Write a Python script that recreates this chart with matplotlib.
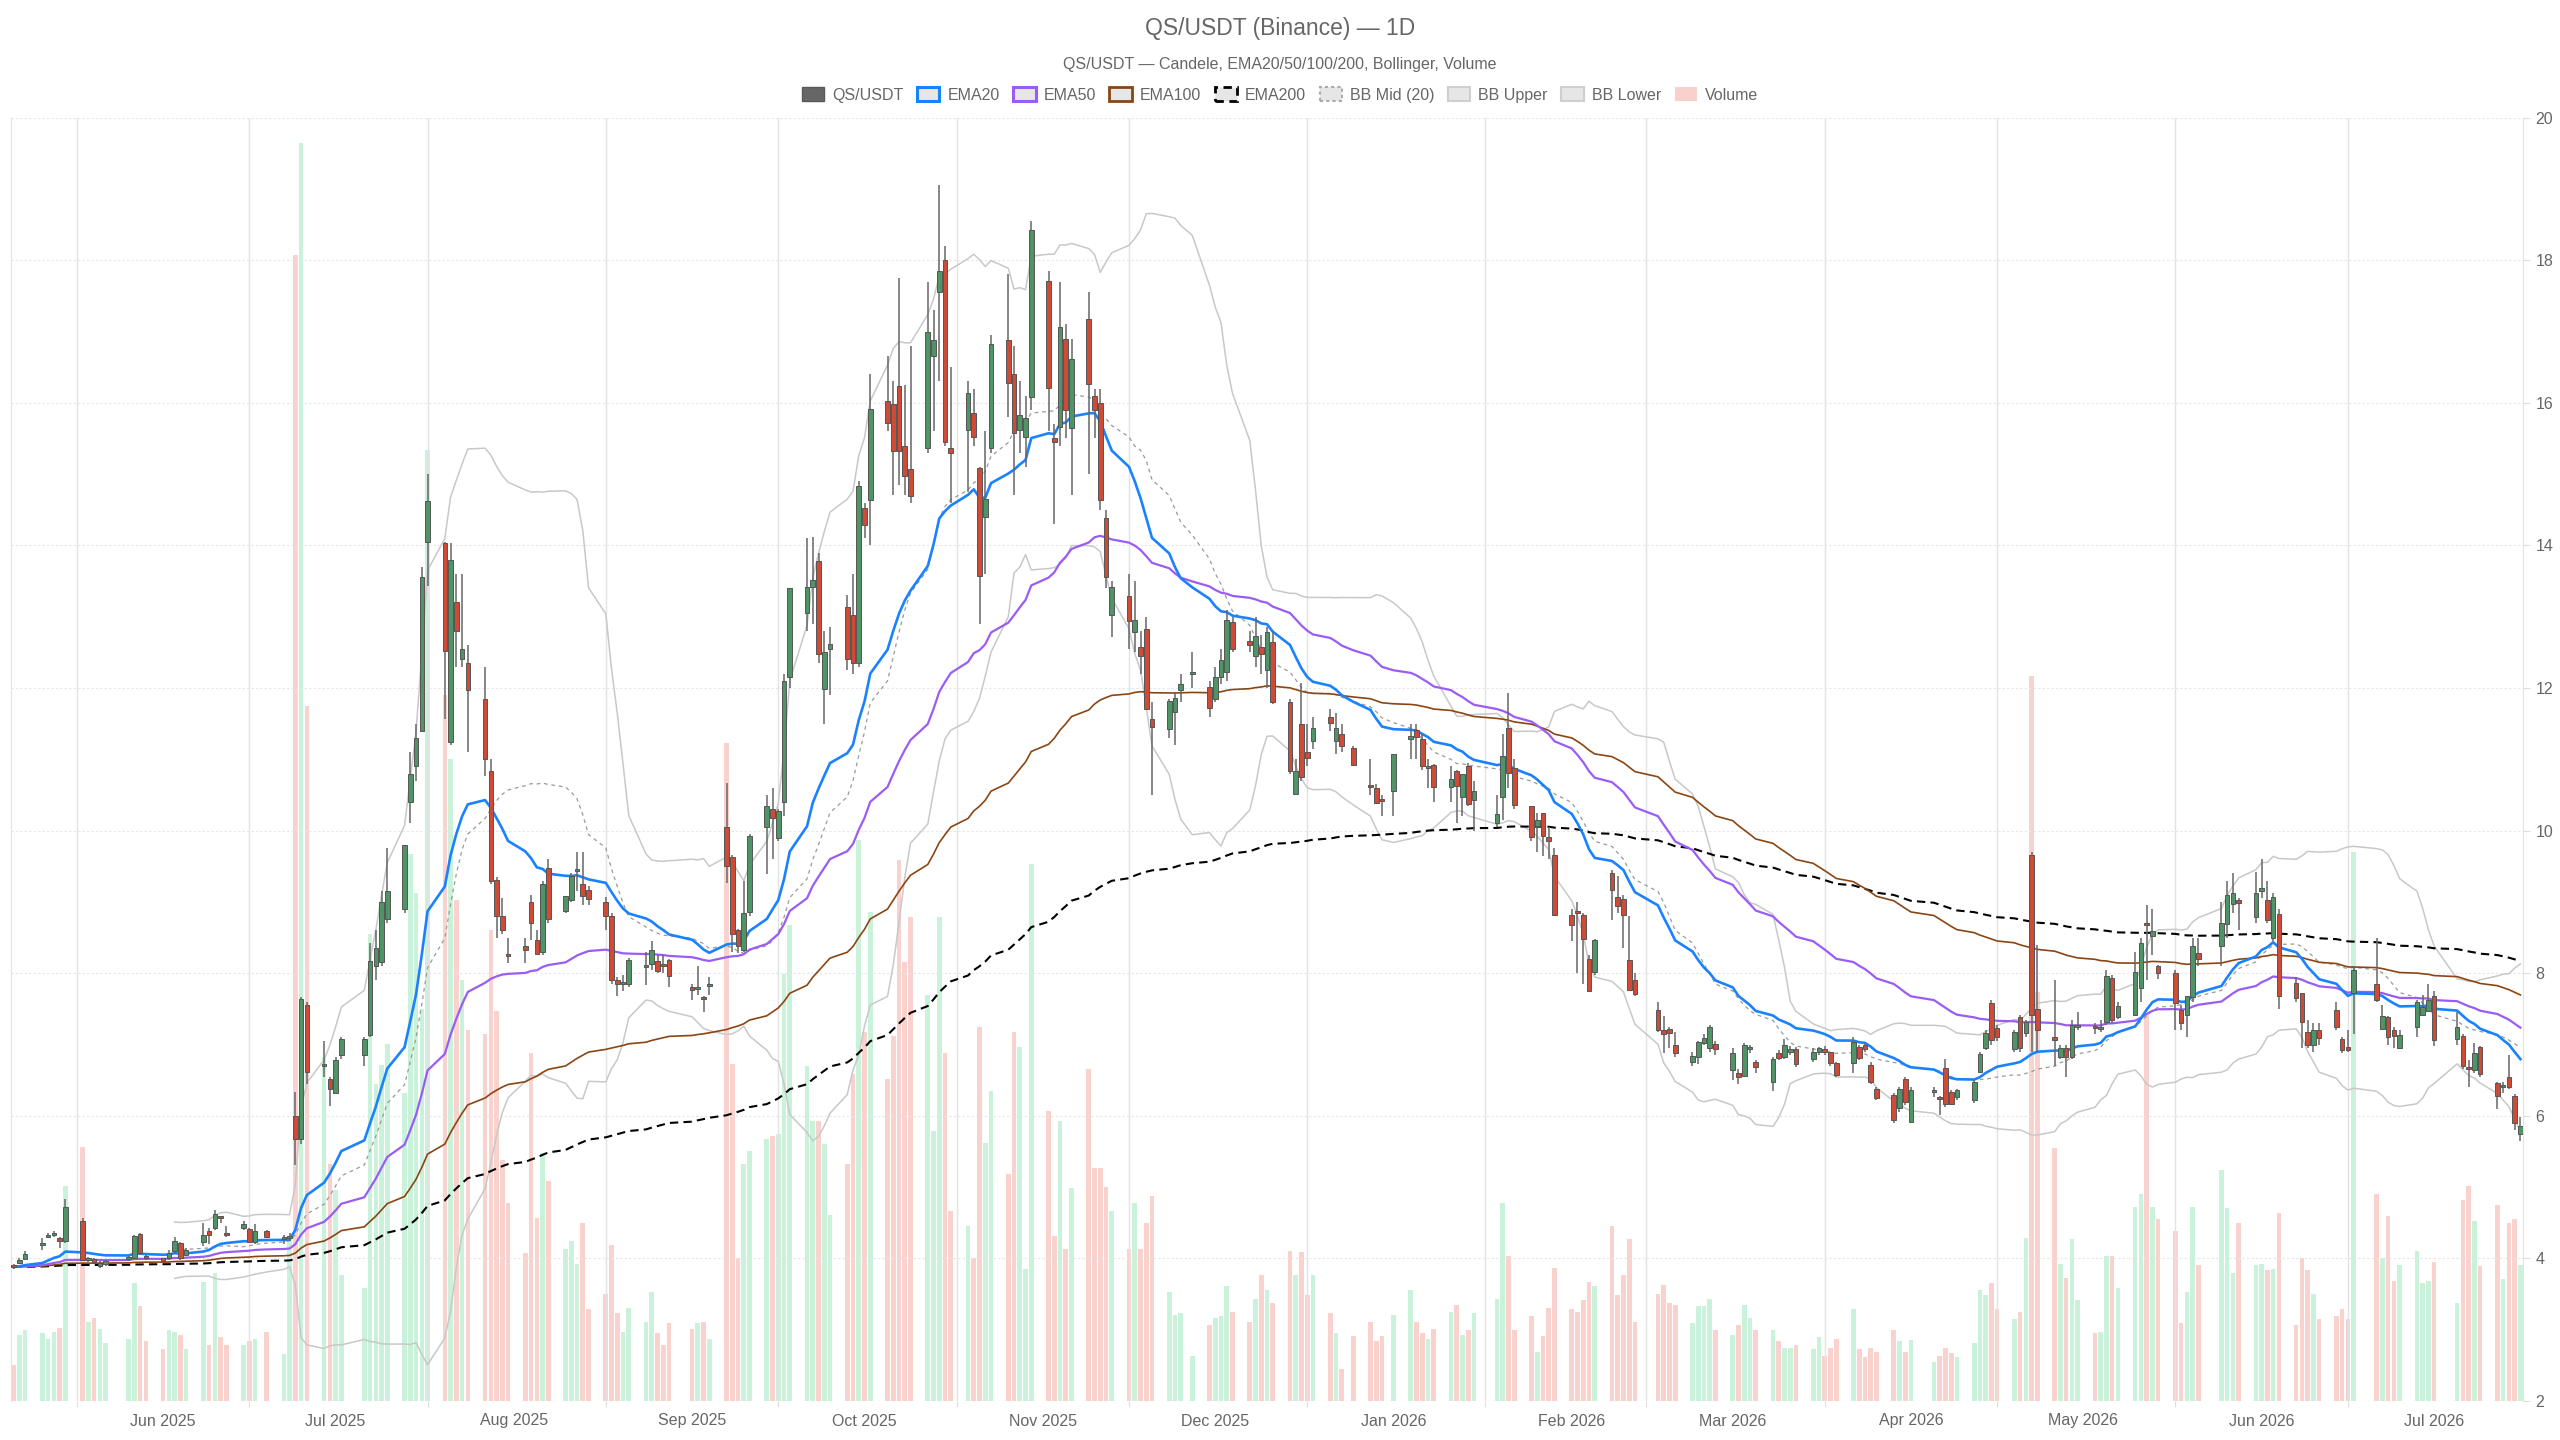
import numpy as np
import pandas as pd
import matplotlib
matplotlib.use("Agg")
import matplotlib.pyplot as plt
import matplotlib.dates as mdates
from matplotlib.patches import Patch
from matplotlib.ticker import MultipleLocator, NullFormatter

plt.rcParams['font.family'] = ['Liberation Sans', 'DejaVu Sans']

# ── Data ──────────────────────────────────────────────────────────────────────
# trading calendar: weekdays between first and last bar, minus the days with no bar
FIRST_DAY = "2025-05-21"
LAST_DAY = "2026-07-31"
MISSING_DAYS = ["2025-06-09", "2025-07-03", "2025-07-18", "2025-09-15", "2025-12-11",
                "2026-01-08", "2026-01-15", "2026-02-02", "2026-03-02", "2026-04-17",
                "2026-06-08", "2026-07-03", "2026-07-17"]

# one line per week
open_ = [
    3.90, 3.93, 3.99,
    4.19, 4.30, 4.33, 4.28, 4.25,
    4.53, 3.98, 3.99, 3.90, 3.92,
    3.99, 4.00, 4.34, 4.02,
    3.98, 4.00, 4.10, 4.21, 4.05,
    4.23, 4.39, 4.42, 4.58, 4.35,
    4.42, 4.41, 4.23, 4.39,
    4.27, 4.28, 6.00, 5.67, 7.55,
    6.70, 6.52, 6.32, 6.85,
    6.85, 7.13, 8.10, 8.16, 8.76,
    8.90, 10.40, 10.90, 11.40, 14.05,
    14.03, 11.24, 13.20, 12.40, 12.35,
    11.85, 10.84, 9.31, 8.80, 8.26,
    8.38, 9.00, 8.47, 8.30, 9.48,
    8.87, 9.02, 9.43, 9.25, 9.17,
    9.00, 8.80, 7.90, 7.85, 7.85,
    8.08, 8.13, 8.17, 8.13, 8.18,
    7.80, 7.78, 7.66, 7.82,
    10.05, 9.63, 8.60, 8.33, 8.86,
    10.05, 10.30, 9.90, 10.40, 12.15,
    13.05, 13.42, 13.78, 11.99, 12.55,
    13.14, 13.02, 12.35, 14.53, 14.63,
    16.02, 15.98, 16.23, 15.39, 15.07,
    15.36, 16.66, 17.56, 18.00, 15.36,
    15.62, 15.85, 15.09, 14.40, 15.36,
    16.88, 16.40, 15.62, 15.52, 16.08,
    17.71, 15.50, 15.66, 16.89, 15.64,
    17.18, 16.10, 16.00, 14.38, 13.02,
    13.29, 12.79, 12.58, 12.83, 11.57,
    11.42, 11.67, 11.97, 12.20,
    12.01, 11.84, 12.15, 12.22, 12.92,
    12.66, 12.45, 12.58, 12.25, 12.64,
    11.81, 10.52, 11.50, 11.10, 11.25,
    11.59, 11.25, 11.35, 11.16,
    10.64, 10.60, 10.43, 10.55,
    11.28, 11.41, 11.28, 10.88, 10.92,
    10.61, 10.84, 10.47, 10.90, 10.43,
    10.11, 10.47, 11.44, 10.88,
    10.34, 10.07, 10.24, 9.91, 9.66,
    8.82, 8.85, 8.82, 8.20, 8.01,
    9.41, 9.07, 9.04, 8.18, 7.90,
    7.49, 7.20, 7.22, 7.00,
    6.76, 6.83, 7.02, 6.95, 7.01,
    6.64, 6.60, 6.56, 6.93, 6.76,
    6.47, 6.88, 6.83, 6.90, 6.94,
    6.80, 6.90, 6.92, 6.89, 6.74,
    6.74, 6.97, 7.00, 6.71, 6.37,
    6.29, 6.11, 6.51, 5.92,
    6.33, 6.25, 6.67, 6.33, 6.26,
    6.22, 6.62, 6.95, 7.58, 7.23,
    6.93, 7.39, 7.16, 9.66, 7.50,
    7.10, 6.83, 6.95, 6.83, 7.24,
    7.25, 7.22, 7.32, 7.93, 7.39,
    7.42, 7.79, 8.68, 8.52, 8.10,
    8.00, 7.48, 7.42, 7.67, 8.29,
    8.38, 8.69, 8.97, 9.03,
    8.79, 9.15, 9.03, 8.50, 8.83,
    7.86, 7.72, 7.17, 7.00, 7.21,
    7.48, 7.08, 6.96, 7.72,
    7.85, 7.22, 7.38, 7.20, 6.95,
    7.24, 7.42, 7.47, 7.68,
    7.08, 7.12, 6.68, 6.64, 6.96,
    6.46, 6.40, 6.55, 6.28, 5.75,
]
high = [
    3.92, 4.00, 4.10,
    4.28, 4.36, 4.38, 4.30, 4.83,
    4.57, 4.02, 4.01, 3.96, 3.98,
    4.04, 4.33, 4.36, 4.05,
    4.00, 4.12, 4.30, 4.23, 4.15,
    4.49, 4.42, 4.68, 4.60, 4.45,
    4.52, 4.43, 4.48, 4.40,
    4.33, 4.35, 6.33, 7.67, 7.60,
    7.05, 6.55, 6.82, 7.10,
    7.10, 8.42, 8.60, 9.15, 9.75,
    9.80, 11.10, 11.50, 13.70, 15.00,
    14.05, 14.03, 13.60, 13.60, 12.60,
    12.29, 11.00, 9.35, 9.05, 8.50,
    8.50, 9.10, 8.60, 9.30, 9.60,
    9.08, 9.40, 9.70, 9.70, 9.22,
    9.07, 8.85, 7.95, 7.98, 8.22,
    8.30, 8.45, 8.25, 8.25, 8.20,
    7.85, 8.10, 7.68, 7.95,
    10.67, 9.66, 8.62, 9.30, 9.95,
    10.50, 10.60, 10.30, 12.20, 13.40,
    14.10, 14.12, 13.90, 12.80, 12.85,
    13.30, 13.60, 14.90, 14.60, 16.40,
    16.65, 16.30, 17.75, 16.25, 16.80,
    17.70, 17.30, 19.06, 18.20, 16.50,
    16.30, 16.20, 15.10, 15.60, 16.95,
    17.80, 16.80, 16.30, 16.10, 18.55,
    17.85, 15.70, 17.70, 17.10, 16.90,
    17.55, 16.20, 16.20, 14.50, 13.50,
    13.60, 13.50, 12.80, 13.00, 11.80,
    11.85, 11.95, 12.20, 12.50,
    12.10, 12.30, 12.55, 13.10, 13.00,
    12.80, 13.00, 12.75, 12.85, 12.80,
    11.85, 11.00, 12.07, 11.50, 11.60,
    11.70, 11.65, 11.50, 11.18,
    11.00, 10.65, 10.50, 11.07,
    11.50, 11.50, 11.35, 11.00, 10.93,
    10.90, 10.85, 10.80, 10.95, 10.70,
    10.50, 11.35, 11.93, 11.00,
    10.35, 10.25, 10.25, 10.05, 9.75,
    8.90, 9.00, 8.85, 8.25, 8.48,
    9.45, 9.37, 9.10, 8.80, 8.00,
    7.60, 7.40, 7.24, 7.18,
    6.90, 7.05, 7.15, 7.28, 7.05,
    6.95, 6.66, 7.02, 7.00, 6.78,
    6.82, 6.92, 7.08, 6.98, 6.96,
    6.95, 6.97, 6.98, 6.90, 6.76,
    7.10, 7.00, 7.02, 6.75, 6.40,
    6.32, 6.40, 6.55, 6.40,
    6.40, 6.28, 6.80, 6.36, 6.38,
    6.50, 6.90, 7.20, 7.62, 7.28,
    7.20, 7.42, 7.35, 9.70, 8.40,
    7.90, 7.00, 7.00, 7.35, 7.45,
    7.30, 7.35, 8.05, 7.97, 7.60,
    8.30, 8.50, 8.95, 8.90, 8.12,
    8.05, 7.55, 7.68, 8.50, 8.50,
    9.00, 9.30, 9.40, 9.05,
    9.42, 9.60, 9.30, 9.12, 8.90,
    7.95, 7.72, 7.35, 7.30, 7.30,
    7.60, 7.10, 7.20, 8.10,
    8.50, 7.55, 7.40, 7.25, 7.20,
    7.62, 7.70, 7.85, 7.75,
    7.45, 7.15, 6.78, 7.02, 6.98,
    6.48, 6.48, 6.85, 6.30, 5.98,
]
low = [
    3.85, 3.92, 3.98,
    4.12, 4.28, 4.30, 4.15, 4.22,
    3.96, 3.95, 3.93, 3.86, 3.90,
    3.97, 3.99, 4.05, 3.98,
    3.95, 3.98, 4.08, 3.98, 4.03,
    4.18, 4.20, 4.40, 4.50, 4.30,
    4.40, 4.22, 4.20, 4.28,
    4.20, 4.25, 5.31, 5.60, 6.45,
    6.55, 6.14, 6.30, 6.80,
    6.70, 7.10, 7.90, 8.10, 8.70,
    8.85, 10.10, 10.70, 11.40, 13.43,
    11.57, 11.20, 12.30, 12.30, 11.10,
    10.76, 9.25, 8.50, 8.55, 8.14,
    8.15, 8.47, 8.25, 8.25, 8.70,
    8.84, 9.00, 9.15, 8.95, 8.95,
    8.60, 7.85, 7.68, 7.75, 7.80,
    7.83, 8.05, 8.00, 8.00, 7.80,
    7.63, 7.70, 7.45, 7.70,
    9.27, 8.30, 8.28, 8.30, 8.80,
    9.39, 9.60, 9.85, 10.20, 12.00,
    12.80, 12.90, 12.35, 11.50, 11.90,
    12.25, 12.20, 12.30, 14.10, 14.00,
    15.60, 14.70, 14.85, 14.70, 14.60,
    15.30, 15.60, 16.30, 15.40, 14.60,
    14.75, 15.40, 12.90, 13.60, 15.30,
    15.80, 14.70, 15.30, 15.10, 15.90,
    15.60, 14.30, 15.40, 15.50, 14.70,
    15.00, 15.50, 14.50, 13.40, 12.72,
    12.55, 12.50, 12.20, 11.70, 10.50,
    11.30, 11.20, 11.80, 12.00,
    11.60, 11.80, 12.05, 12.10, 12.50,
    12.50, 12.30, 12.20, 12.00, 11.78,
    10.80, 10.50, 10.70, 10.90, 11.15,
    11.40, 11.08, 11.10, 10.90,
    10.50, 10.37, 10.20, 10.20,
    11.00, 11.00, 10.85, 10.60, 10.40,
    10.40, 10.10, 10.20, 10.35, 10.00,
    10.05, 10.15, 10.60, 10.30,
    9.85, 9.70, 9.65, 9.60, 8.80,
    8.45, 8.00, 7.85, 7.75, 7.98,
    8.75, 8.85, 8.36, 7.75, 7.68,
    7.18, 6.88, 6.95, 6.83,
    6.70, 6.72, 7.00, 6.90, 6.85,
    6.50, 6.45, 6.55, 6.88, 6.60,
    6.35, 6.78, 6.80, 6.85, 6.68,
    6.75, 6.85, 6.85, 6.70, 6.55,
    6.60, 6.78, 6.90, 6.45, 6.22,
    5.90, 6.05, 6.15, 5.90,
    6.26, 6.01, 6.12, 6.15, 6.22,
    6.18, 6.60, 6.92, 7.00, 7.05,
    6.90, 6.90, 7.10, 6.90, 6.90,
    6.70, 6.80, 6.55, 6.80, 7.20,
    7.15, 7.18, 7.28, 7.30, 7.36,
    7.40, 7.60, 7.90, 8.25, 7.92,
    7.20, 7.20, 7.10, 7.60, 8.10,
    8.10, 8.50, 8.85, 8.60,
    8.70, 9.05, 8.70, 8.45, 7.50,
    7.60, 6.95, 6.95, 6.90, 7.00,
    7.20, 6.88, 6.90, 7.15,
    7.60, 7.20, 7.00, 6.95, 6.93,
    7.10, 7.40, 7.45, 6.98,
    7.00, 6.65, 6.40, 6.60, 6.55,
    6.10, 6.32, 6.38, 5.80, 5.65,
]
close = [
    3.88, 3.98, 4.06,
    4.21, 4.32, 4.34, 4.25, 4.72,
    3.98, 3.99, 3.95, 3.94, 3.96,
    4.02, 4.31, 4.07, 4.00,
    3.97, 4.08, 4.25, 4.00, 4.12,
    4.33, 4.33, 4.62, 4.56, 4.33,
    4.48, 4.23, 4.38, 4.30,
    4.28, 4.30, 5.67, 7.64, 6.61,
    6.72, 6.38, 6.78, 7.08,
    7.08, 8.17, 8.35, 9.00, 9.15,
    9.80, 10.80, 11.30, 13.55, 14.62,
    12.52, 13.80, 12.80, 12.55, 11.97,
    11.00, 9.29, 8.80, 8.60, 8.24,
    8.32, 8.70, 8.27, 9.25, 8.76,
    9.08, 9.36, 9.45, 9.08, 9.04,
    8.80, 7.90, 7.85, 7.88, 8.18,
    8.10, 8.32, 8.03, 8.10, 7.96,
    7.76, 7.80, 7.64, 7.85,
    9.50, 8.55, 8.38, 8.84, 9.92,
    10.35, 10.17, 10.27, 12.10, 13.40,
    13.42, 13.52, 12.48, 12.50, 12.62,
    12.40, 12.35, 14.83, 14.29, 15.91,
    15.72, 15.32, 15.32, 14.98, 14.69,
    16.99, 16.88, 17.85, 15.45, 15.30,
    16.14, 15.52, 13.57, 14.65, 16.82,
    16.28, 15.58, 15.83, 15.79, 18.43,
    16.21, 15.45, 17.07, 15.90, 16.61,
    16.27, 15.90, 14.63, 13.55, 13.42,
    12.94, 12.96, 12.45, 11.71, 11.46,
    11.82, 11.86, 12.06, 12.21,
    11.72, 12.16, 12.39, 12.96, 12.54,
    12.60, 12.73, 12.47, 12.79, 11.80,
    10.83, 10.83, 10.75, 11.02, 11.44,
    11.51, 11.44, 11.18, 10.92,
    10.61, 10.39, 10.42, 11.07,
    11.33, 11.31, 10.90, 10.90, 10.61,
    10.72, 10.62, 10.79, 10.38, 10.55,
    10.23, 11.05, 10.81, 10.36,
    9.91, 10.15, 9.93, 9.85, 8.82,
    8.67, 8.84, 8.48, 7.75, 8.47,
    9.16, 8.94, 8.81, 7.76, 7.71,
    7.20, 7.15, 7.16, 6.88,
    6.84, 7.03, 7.09, 7.25, 6.93,
    6.88, 6.54, 7.00, 6.95, 6.69,
    6.80, 6.81, 7.00, 6.94, 6.72,
    6.89, 6.95, 6.90, 6.74, 6.57,
    7.04, 6.81, 6.94, 6.48, 6.25,
    5.94, 6.37, 6.20, 6.36,
    6.34, 6.23, 6.17, 6.17, 6.36,
    6.47, 6.86, 7.16, 7.07, 7.10,
    7.18, 6.95, 7.31, 7.42, 7.20,
    7.06, 6.95, 6.83, 7.28, 7.26,
    7.23, 7.25, 7.96, 7.35, 7.54,
    8.02, 8.42, 8.67, 8.59, 8.00,
    7.58, 7.30, 7.68, 8.38, 8.20,
    8.70, 9.09, 9.12, 8.98,
    9.12, 9.19, 8.75, 9.07, 7.68,
    7.65, 7.32, 7.00, 7.20, 7.09,
    7.24, 6.92, 6.92, 8.05,
    7.62, 7.40, 7.10, 7.12, 7.14,
    7.60, 7.52, 7.63, 7.06,
    7.24, 6.70, 6.66, 6.88, 6.58,
    6.28, 6.41, 6.40, 5.90, 5.85,
]
# volume, millions
volume = [
    0.51, 0.93, 0.99,
    0.95, 0.87, 0.97, 1.03, 3.02,
    3.56, 1.11, 1.17, 1.01, 0.81,
    0.87, 1.65, 1.33, 0.84,
    0.73, 0.99, 0.97, 0.93, 0.73,
    1.67, 0.79, 1.79, 0.90, 0.78,
    0.79, 0.84, 0.87, 0.97,
    0.66, 2.30, 16.06, 17.64, 9.75,
    4.82, 3.32, 2.96, 1.77,
    1.59, 6.55, 4.44, 4.71, 5.00,
    4.32, 7.67, 7.12, 5.50, 13.33,
    9.90, 9.00, 7.03, 5.90, 5.20,
    5.14, 6.61, 5.47, 3.38, 2.78,
    2.07, 4.88, 2.57, 3.48, 3.08,
    2.13, 2.25, 1.92, 2.49, 1.29,
    1.50, 2.19, 1.23, 0.97, 1.31,
    1.11, 1.53, 0.95, 0.78, 1.09,
    1.01, 1.09, 1.11, 0.87,
    9.22, 4.72, 2.01, 3.32, 3.50,
    3.68, 3.72, 3.74, 5.99, 6.67,
    4.70, 3.92, 3.92, 3.60, 2.61,
    3.32, 4.58, 7.87, 5.18, 6.85,
    4.52, 5.12, 7.59, 6.16, 6.79,
    5.69, 3.78, 6.79, 4.88, 2.67,
    2.45, 2.01, 5.24, 3.62, 4.34,
    3.18, 5.18, 4.96, 1.85, 7.53,
    4.06, 2.31, 3.92, 2.13, 2.99,
    4.66, 3.26, 3.26, 3.00, 2.67,
    2.13, 2.77, 2.13, 2.49, 2.87,
    1.53, 1.21, 1.23, 0.63,
    1.07, 1.17, 1.19, 1.61, 1.25,
    1.11, 1.43, 1.77, 1.56, 1.38,
    2.10, 1.77, 2.09, 1.49, 1.76,
    1.23, 0.95, 0.45, 0.91,
    1.11, 0.84, 0.91, 1.21,
    1.56, 1.11, 0.95, 0.87, 1.01,
    1.25, 1.35, 0.93, 0.99, 1.23,
    1.43, 2.77, 2.03, 1.00,
    1.19, 0.69, 0.91, 1.31, 1.86,
    1.29, 1.25, 1.41, 1.67, 1.61,
    2.46, 1.49, 1.77, 2.27, 1.11,
    1.50, 1.62, 1.37, 1.35,
    1.09, 1.33, 1.33, 1.43, 1.00,
    0.93, 1.07, 1.35, 1.17, 1.00,
    0.99, 0.84, 0.75, 0.75, 0.78,
    0.73, 0.90, 0.63, 0.75, 0.87,
    1.29, 0.73, 0.61, 0.75, 0.69,
    0.99, 0.84, 0.69, 0.85,
    0.55, 0.63, 0.75, 0.67, 0.61,
    0.81, 1.56, 1.49, 1.65, 1.29,
    1.15, 1.25, 2.28, 10.16, 5.74,
    3.54, 1.92, 1.73, 2.27, 1.41,
    0.95, 0.97, 2.03, 2.03, 1.59,
    2.72, 2.90, 5.42, 2.72, 2.55,
    2.39, 1.09, 1.53, 2.72, 1.91,
    3.24, 2.70, 1.79, 2.49,
    1.91, 1.92, 1.83, 1.85, 2.63,
    1.07, 2.01, 1.83, 1.50, 1.15,
    1.19, 1.29, 1.15, 7.69,
    2.90, 2.01, 2.60, 1.68, 1.91,
    2.10, 1.65, 1.68, 1.95,
    1.37, 2.82, 3.02, 2.52, 1.89,
    2.75, 1.71, 2.49, 2.55, 1.91,
]

PRICE_TICKS = list(range(2, 21, 2))

# ── Style ─────────────────────────────────────────────────────────────────────
TEXT = "#666666"
GRID = "#e6e6e6"
UP, DOWN, EDGE, WICK = "#4f9465", "#cf4b35", "#555555", "#666666"
VOL_UP, VOL_DOWN = (0.18, 0.80, 0.44, 0.25), (0.91, 0.30, 0.24, 0.25)
C_EMA20, C_EMA50, C_EMA100, C_EMA200 = "#1a82ff", "#9b5cf6", "#8b4513", "#000000"
C_BB_MID, C_BB_BAND = "#9a9a9a", "#c8c8c8"


def main():
    dates = pd.bdate_range(FIRST_DAY, LAST_DAY)
    dates = dates[~dates.isin(pd.to_datetime(MISSING_DAYS))]
    assert len(dates) == len(close) == len(open_) == len(high) == len(low) == len(volume)

    x = mdates.date2num(dates)
    o, h, l, c = (np.asarray(v, dtype=float) for v in (open_, high, low, close))
    up = c >= o
    cs = pd.Series(c)
    ema = {n: cs.ewm(span=n, adjust=False).mean().values for n in (20, 50, 100, 200)}
    bb_mid = cs.rolling(20).mean()
    bb_std = cs.rolling(20).std(ddof=0)
    bb_up = (bb_mid + 2 * bb_std).values
    bb_lo = (bb_mid - 2 * bb_std).values

    fig = plt.figure(figsize=(25.6, 14.4), dpi=100, facecolor="white")
    ax = fig.add_axes([11 / 2560, 1 - 1401 / 1440, 2512 / 2560, 1283.4 / 1440])
    axv = ax.twinx()
    ax.set_zorder(axv.get_zorder() + 1)
    ax.patch.set_visible(False)

    # volume (own hidden scale)
    axv.bar(x, volume, width=0.8, color=[VOL_UP if u else VOL_DOWN for u in up], linewidth=0)
    axv.set_ylim(0, max(volume) * 1.02)
    axv.set_yticks([])
    for s in axv.spines.values():
        s.set_visible(False)

    # bollinger + EMAs
    ax.plot(x, bb_lo, color=C_BB_BAND, lw=1.1, zorder=2)
    ax.plot(x, bb_up, color=C_BB_BAND, lw=1.1, zorder=2)
    ax.plot(x, bb_mid.values, color=C_BB_MID, lw=0.9, ls=(0, (3, 3)), zorder=2.2)
    ax.plot(x, ema[200], color=C_EMA200, lw=1.5, ls=(0, (4, 2.5)), zorder=3)
    ax.plot(x, ema[100], color=C_EMA100, lw=1.2, zorder=3.1)
    ax.plot(x, ema[50], color=C_EMA50, lw=1.6, zorder=3.2)
    ax.plot(x, ema[20], color=C_EMA20, lw=1.9, zorder=3.3)

    # candles
    ax.vlines(x, l, h, color=WICK, lw=1.1, zorder=5)
    ax.bar(x, np.maximum(np.abs(c - o), 0.03), bottom=np.minimum(o, c), width=0.8,
           color=np.where(up, UP, DOWN), edgecolor=EDGE, linewidth=0.7, zorder=6)

    # axes
    ax.set_xlim(x[0] - 0.45, x[-1] + 0.45)
    ax.set_ylim(PRICE_TICKS[0], PRICE_TICKS[-1])
    ax.yaxis.tick_right()
    ax.set_yticks(PRICE_TICKS)
    ax.tick_params(axis="y", colors="#dddddd", labelcolor=TEXT, labelsize=11.5, length=5, pad=4)
    ax.grid(axis="y", color=GRID, lw=0.8, ls=(0, (2, 2)))

    ax.xaxis.set_major_locator(mdates.MonthLocator())
    ax.xaxis.set_major_formatter(NullFormatter())
    ax.xaxis.set_minor_locator(mdates.MonthLocator(bymonthday=16))
    ax.xaxis.set_minor_formatter(mdates.DateFormatter("%b %Y"))
    ax.tick_params(axis="x", which="major", colors="#dddddd", length=4)
    ax.tick_params(axis="x", which="minor", length=0, labelcolor=TEXT, labelsize=11.5, pad=9)
    ax.grid(axis="x", which="major", color="#e2e2e2", lw=1.0)

    for side in ("top", "bottom"):
        ax.spines[side].set_visible(False)
    for side in ("left", "right"):
        ax.spines[side].set_color("#e2e2e2")

    # titles + legend
    fig.text(0.5, 1 - 28 / 1440, "QS/USDT (Binance) — 1D", ha="center", va="center",
             fontsize=16.5, color=TEXT)
    fig.text(0.5, 1 - 64 / 1440, "QS/USDT — Candele, EMA20/50/100/200, Bollinger, Volume",
             ha="center", va="center", fontsize=11.5, color=TEXT)
    box = "#e6e6e6"
    handles = [
        Patch(facecolor="#666666", edgecolor="#5a5a5a", lw=1.0, label="QS/USDT"),
        Patch(facecolor=box, edgecolor=C_EMA20, lw=2.2, label="EMA20"),
        Patch(facecolor=box, edgecolor=C_EMA50, lw=2.2, label="EMA50"),
        Patch(facecolor=box, edgecolor=C_EMA100, lw=2.0, label="EMA100"),
        Patch(facecolor=box, edgecolor=C_EMA200, lw=2.0, ls=(0, (3, 2)), label="EMA200"),
        Patch(facecolor=box, edgecolor="#aaaaaa", lw=1.5, ls=(0, (1.5, 1.5)), label="BB Mid (20)"),
        Patch(facecolor=box, edgecolor="#cfcfcf", lw=1.5, label="BB Upper"),
        Patch(facecolor=box, edgecolor="#cfcfcf", lw=1.5, label="BB Lower"),
        Patch(facecolor="#f8d0cc", edgecolor="none", label="Volume"),
    ]
    fig.legend(handles=handles, loc="center", bbox_to_anchor=(0.5, 1 - 95 / 1440), ncol=9,
               frameon=False, fontsize=11.5, labelcolor=TEXT, handlelength=1.4,
               handleheight=0.95, handletextpad=0.5, columnspacing=0.85)

    fig.savefig("out.png", dpi=100, facecolor="white")
    plt.close(fig)


if __name__ == "__main__":
    main()
